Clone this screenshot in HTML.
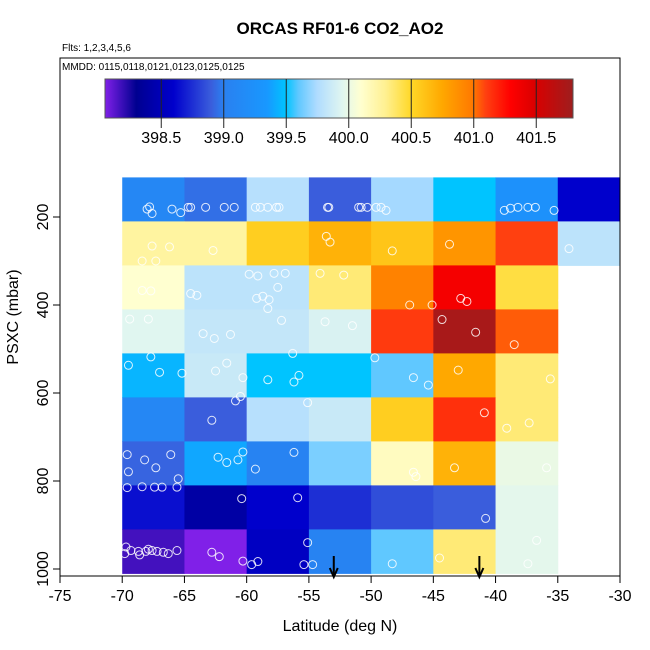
<!DOCTYPE html>
<html><head><meta charset="utf-8"><style>
body{margin:0;background:#fff;}
svg{display:block;font-family:"Liberation Sans",Arial,sans-serif;}
</style></head><body>
<svg id="chart" width="650" height="650" viewBox="0 0 650 650">
<defs><linearGradient id="cbg" x1="0" x2="1" y1="0" y2="0"></linearGradient></defs>
<text x="340" y="34" text-anchor="middle" font-size="17" font-weight="bold">ORCAS RF01-6 CO2_AO2</text>
<text x="62" y="51" font-size="10">Flts: 1,2,3,4,5,6</text>
<g id="cells"></g>
<g id="pts"></g>
<g id="cbar"></g>
<g id="axes"></g>
<text x="62" y="70" font-size="10">MMDD: 0115,0118,0121,0123,0125,0125</text>
<text x="340" y="631" text-anchor="middle" font-size="16">Latitude (deg N)</text>
<text transform="translate(18,317) rotate(-90)" text-anchor="middle" font-size="16">PSXC (mbar)</text>
</svg>
<script>
const latBins=[-70,-65,-60,-55,-50,-45,-40,-35];
const presBins=[160,260,360,460,560,660,760,860,960];
const co2Values=[
 [399.1,398.95,399.78,398.9,399.73,399.5,399.25,398.6],
 [400.25,400.25,400.55,400.7,400.6,400.85,401.1,399.8],
 [400.1,399.8,399.8,400.35,400.95,401.35,400.45,null],
 [399.95,399.83,399.83,399.92,401.12,401.75,401.05,null],
 [399.45,399.85,399.5,399.5,399.6,400.75,400.35,null],
 [399.1,398.9,399.78,399.85,400.55,401.15,400.35,null],
 [398.92,399.4,399.05,399.65,400.15,400.7,400.0,null],
 [398.65,398.4,398.6,398.75,398.85,398.9,399.97,null],
 [398.17,398.05,398.55,399.05,399.6,400.35,399.97,null]];
const colorbarTicks=[398.5,399.0,399.5,400.0,400.5,401.0,401.5];
const xTicks=[-75,-70,-65,-60,-55,-50,-45,-40,-35,-30];
const yTicks=[200,400,600,800,1000];
const obsLat=[-68,-67.8,-67.6,-66,-65.3,-64.7,-64.5,-63.3,-61.8,-61,-59.3,-58.9,-58.3,-57.6,-57.4,-53.5,-53.4,-51,-50.8,-50.3,-49.6,-49.2,-48.8,-39.3,-38.8,-38.2,-37.4,-36.8,-35.3,
 -67.6,-66.2,-67.3,-68.4,-62.7,-53.6,-53.3,-48.3,-43.7,-34.1,
 -67.7,-68.4,-64.5,-64,-59.2,-58.7,-58.2,-57.5,-56.9,-59.8,-59.1,-57.8,-54.1,-52.2,-46.9,-45.1,-42.8,-42.3,-34.6,
 -69.4,-67.9,-63.5,-62.6,-61.3,-58.3,-57.2,-51.5,-44.3,-41.6,-38.5,
 -67.7,-69.5,-67,-65.2,-62.5,-61.6,-60.3,-58.3,-56.2,-56.3,-55.8,-49.7,-46.6,-45.4,-43,-35.6,
 -60.5,-62.8,-60.9,-55.1,-53.7,-40.9,-39.1,-37.3,
 -69.6,-68.2,-66.1,-69.5,-67.3,-65.5,-62.3,-61.6,-60.3,-60.7,-59.3,-56.2,-46.6,-46.4,-43.3,-35.9,
 -69.6,-68.4,-67.4,-66.8,-65.6,-60.4,-55.9,-40.8,
 -69.7,-69.3,-68.7,-68.1,-67.6,-67.2,-66.7,-66.3,-65.6,-69.8,-68.6,-67.9,-62.8,-62.2,-60.3,-59.6,-59.1,-55.4,-55.1,-54.7,-48.3,-44.5,-37.4,-36.7];
const obsPres=[182,177,192,182,190,178,178,178,178,178,178,178,178,178,178,178,178,178,178,178,178,178,185,185,180,178,178,178,185,
 266,268,300,300,276,244,257,277,262,272,
 368,367,374,378,385,380,388,360,328,330,334,328,328,332,400,400,385,392,390,
 432,432,465,476,467,408,435,447,433,462,490,
 518,537,553,555,550,532,565,570,575,510,560,520,565,582,548,568,
 608,662,618,622,438,645,680,668,
 740,752,740,779,770,795,746,758,734,752,773,735,780,790,770,770,
 815,813,814,814,814,840,838,885,
 950,958,960,960,958,960,962,965,958,965,968,955,962,972,982,990,983,990,940,990,988,975,988,935];
const arrowLat=[-53,-41.3];

const svg=document.getElementById('chart');
const NS='http://www.w3.org/2000/svg';
function mk(tag,attrs,parent){const e=document.createElementNS(NS,tag);for(const k in attrs)e.setAttribute(k,attrs[k]);parent.appendChild(e);return e;}
const xs=v=>60+(v+75)*560/45;
const ys=p=>217+(p-200)*0.44;
const cbX=v=>105+(v-398.05)*125;
const stops=[[398.05,'#8020e8'],[398.3,'#000090'],[398.6,'#0000cc'],[398.9,'#3a5ddc'],[399.0,'#2a80f0'],[399.35,'#1898ff'],[399.5,'#00c4ff'],[399.6,'#60c8ff'],[399.75,'#b0dcff'],[399.95,'#e0f6f0'],[400.1,'#ffffd0'],[400.3,'#fff090'],[400.5,'#ffd828'],[400.75,'#ffa800'],[401.0,'#ff7800'],[401.1,'#ff4010'],[401.3,'#ff0000'],[401.5,'#d80000'],[401.8,'#9e1e1e']];
function hex(c){return [1,3,5].map(i=>parseInt(c.substr(i,2),16));}
function cmap(v){if(v<=stops[0][0])return stops[0][1];for(let i=1;i<stops.length;i++){if(v<=stops[i][0]){const t=(v-stops[i-1][0])/(stops[i][0]-stops[i-1][0]);const a=hex(stops[i-1][1]),b=hex(stops[i][1]);return 'rgb('+a.map((x,j)=>Math.round(x+(b[j]-x)*t)).join(',')+')';}}return stops[stops.length-1][1];}

const cg=document.getElementById('cells');
co2Values.forEach((row,ri)=>row.forEach((v,ci)=>{if(v===null)return;
 const x0=xs(latBins[ci]),x1=xs(latBins[ci]+5),y0=ys(presBins[ri]-50),y1=ys(presBins[ri]+50);
 const r=mk('rect',{x:x0,y:y0,width:x1-x0+0.5,height:y1-y0+0.5,fill:cmap(v)},cg);
 
 }));
const pg=document.getElementById('pts');
obsLat.forEach((la,i)=>{const c=mk('circle',{cx:xs(la),cy:ys(obsPres[i]),r:4,fill:'none',stroke:'#fff','stroke-width':1,'stroke-opacity':0.85},pg);
 
 });
arrowLat.forEach(a=>{const g=mk('g',{},pg);
 
 
 mk('line',{x1:xs(a),x2:xs(a),y1:556,y2:576,stroke:'#000','stroke-width':2},g);
 mk('path',{d:`M${xs(a)-4},568 L${xs(a)},577 L${xs(a)+4},568`,fill:'none',stroke:'#000','stroke-width':2},g);});
const grad=document.getElementById('cbg');
stops.forEach(s=>mk('stop',{offset:((s[0]-398.05)/(401.8-398.05)*100)+'%','stop-color':s[1]},grad));
const cb=document.getElementById('cbar');
const cbr=mk('rect',{x:105,y:79,width:468,height:39,fill:'url(#cbg)',stroke:'#555','stroke-width':1},cb);


colorbarTicks.forEach(t=>{mk('line',{x1:cbX(t),x2:cbX(t),y1:79,y2:128,stroke:'#222','stroke-width':1},cb);
 const tx=mk('text',{x:cbX(t),y:143,'text-anchor':'middle','font-size':16},cb);tx.textContent=t.toFixed(1);
 
 });
const ax=document.getElementById('axes');
const frame=mk('rect',{x:60,y:58,width:560,height:518,fill:'none',stroke:'#000','stroke-width':1},ax);


xTicks.forEach(t=>{mk('line',{x1:xs(t),x2:xs(t),y1:576,y2:583,stroke:'#000'},ax);
 const tx=mk('text',{x:xs(t),y:601,'text-anchor':'middle','font-size':16},ax);tx.textContent=t;
 
 });
yTicks.forEach(t=>{mk('line',{x1:53,x2:60,y1:ys(t),y2:ys(t),stroke:'#000'},ax);
 const tx=mk('text',{transform:`translate(48,${ys(t)}) rotate(-90)`,'text-anchor':'middle','font-size':16},ax);tx.textContent=t;
 
 });
</script>
</body></html>
